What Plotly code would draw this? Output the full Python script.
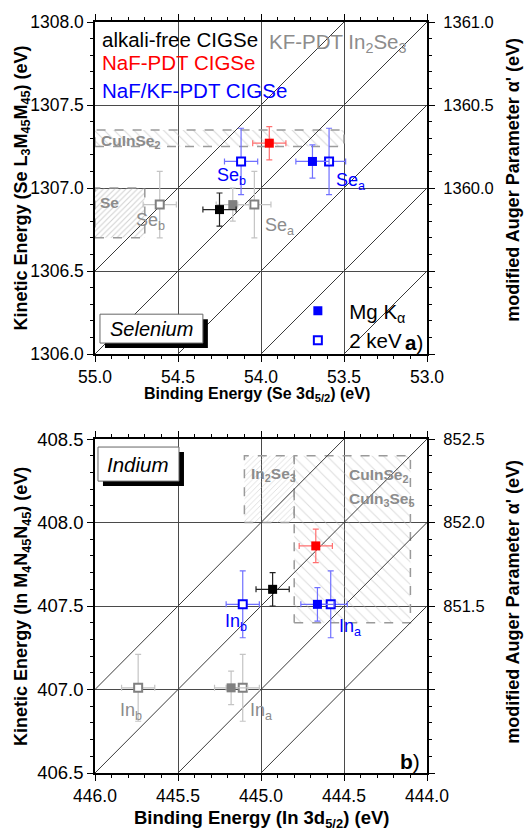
import plotly.graph_objects as go

# ---------------- data ----------------
# Selenium panel (a)
se_x_range = [55.0, 53.0]
se_y_range = [1306.0, 1308.0]
se_alpha_offset = 53.0
se_alpha_ticks = [1360.0, 1360.5, 1361.0]
se_alpha_lines = [1359.5, 1360.0, 1360.5, 1361.0, 1361.5]

se_alkali_be = [54.25]
se_alkali_ke = [1306.87]
se_naf_be = [53.95]
se_naf_ke = [1307.27]
se_nafkf_mg_be = [53.69]
se_nafkf_mg_ke = [1307.16]
se_nafkf_2kev_be = [53.59, 54.12]
se_nafkf_2kev_ke = [1307.16, 1307.16]
se_kf_mg_be = [54.17]
se_kf_mg_ke = [1306.90]
se_kf_2kev_be = [54.04, 54.61]
se_kf_2kev_ke = [1306.90, 1306.90]

se_cuinse2_be = [55.0, 53.5]
se_cuinse2_ke = [1307.25, 1307.35]
se_elem_be = [55.0, 54.7]
se_elem_ke = [1306.7, 1307.0]

# Indium panel (b)
in_x_range = [446.0, 444.0]
in_y_range = [406.5, 408.5]
in_alpha_offset = 444.0
in_alpha_ticks = [851.5, 852.0, 852.5]
in_alpha_lines = [851.5, 852.0, 852.5, 853.0]

in_alkali_be = [444.93]
in_alkali_ke = [407.60]
in_naf_be = [444.67]
in_naf_ke = [407.86]
in_nafkf_mg_be = [444.66]
in_nafkf_mg_ke = [407.51]
in_nafkf_2kev_be = [444.58, 445.11]
in_nafkf_2kev_ke = [407.51, 407.51]
in_kf_mg_be = [445.18]
in_kf_mg_ke = [407.01]
in_kf_2kev_be = [445.11, 445.74]
in_kf_2kev_ke = [407.01, 407.01]

in_in2se3_be = [445.1, 444.8]
in_in2se3_ke = [408.0, 408.4]
in_cuinse2_be = [444.8, 444.1]
in_cuinse2_ke = [407.4, 408.4]

err_mg = 0.1
err_2kev_x = 0.1
err_2kev_y = 0.2

# ---------------- styles ----------------
FONT = "Liberation Sans, Arial, sans-serif"
BLACK = "#000000"
GRAY = "#808080"
LGRAY = "#8c8c8c"
RED = "#ff0000"
BLUE = "#0000ff"
ERRC = {BLACK: "#222222", GRAY: "#c4c4c4", RED: "#ff7070", BLUE: "#7070ff"}

fig = go.Figure()


def add_box(be, ke, xa, ya, shape, size, solidity, fg):
    fig.add_trace(go.Scatter(
        x=[be[0], be[1], be[1], be[0], be[0]],
        y=[ke[0], ke[0], ke[1], ke[1], ke[0]],
        xaxis=xa, yaxis=ya, mode="lines", fill="toself",
        fillcolor="rgba(0,0,0,0)",
        fillpattern=dict(shape=shape, size=size, solidity=solidity,
                         fgcolor=fg, bgcolor="rgba(0,0,0,0)"),
        line=dict(color="#9a9a9a", width=1.5, dash="dash"),
        hoverinfo="skip", showlegend=False))


def add_diagonals(alphas, xr, xa, ya):
    for a in alphas:
        fig.add_trace(go.Scatter(
            x=[xr[0], xr[1]], y=[a - xr[0], a - xr[1]],
            xaxis=xa, yaxis=ya, mode="lines",
            line=dict(color="#3a3a3a", width=1),
            hoverinfo="skip", showlegend=False))


def add_points(be, ke, xa, ya, color, filled, ex, ey):
    n = len(be)
    fig.add_trace(go.Scatter(
        x=be, y=ke, xaxis=xa, yaxis=ya, mode="markers",
        error_x=dict(type="data", array=[ex] * n, color=ERRC[color], thickness=1.2, width=3),
        error_y=dict(type="data", array=[ey] * n, color=ERRC[color], thickness=1.2, width=3),
        marker=dict(symbol="square", size=9 if filled else 8,
                    color=color if filled else "white",
                    line=dict(color=color, width=0 if filled else 2)),
        hoverinfo="skip", showlegend=False))


# panel a
add_box(se_cuinse2_be, se_cuinse2_ke, "x", "y", "\\", 7, 0.15, "#b0b0b0")
add_box(se_elem_be, se_elem_ke, "x", "y", "/", 4, 0.25, "#a0a0a0")
add_diagonals(se_alpha_lines, se_x_range, "x", "y")
add_points(se_kf_2kev_be, se_kf_2kev_ke, "x", "y", GRAY, False, err_2kev_x, err_2kev_y)
add_points(se_kf_mg_be, se_kf_mg_ke, "x", "y", GRAY, True, err_mg, err_mg)
add_points(se_alkali_be, se_alkali_ke, "x", "y", BLACK, True, err_mg, err_mg)
add_points(se_naf_be, se_naf_ke, "x", "y", RED, True, err_mg, err_mg)
add_points(se_nafkf_2kev_be, se_nafkf_2kev_ke, "x", "y", BLUE, False, err_2kev_x, err_2kev_y)
add_points(se_nafkf_mg_be, se_nafkf_mg_ke, "x", "y", BLUE, True, err_mg, err_mg)

# panel b
add_box(in_cuinse2_be, in_cuinse2_ke, "x2", "y2", "\\", 8, 0.12, "#b8b8b8")
add_box(in_in2se3_be, in_in2se3_ke, "x2", "y2", "/", 4, 0.2, "#b0b0b0")
add_diagonals(in_alpha_lines, in_x_range, "x2", "y2")
add_points(in_kf_2kev_be, in_kf_2kev_ke, "x2", "y2", GRAY, False, err_2kev_x, err_2kev_y)
add_points(in_kf_mg_be, in_kf_mg_ke, "x2", "y2", GRAY, True, err_mg, err_mg)
add_points(in_alkali_be, in_alkali_ke, "x2", "y2", BLACK, True, err_mg, err_mg)
add_points(in_naf_be, in_naf_ke, "x2", "y2", RED, True, err_mg, err_mg)
add_points(in_nafkf_2kev_be, in_nafkf_2kev_ke, "x2", "y2", BLUE, False, err_2kev_x, err_2kev_y)
add_points(in_nafkf_mg_be, in_nafkf_mg_ke, "x2", "y2", BLUE, True, err_mg, err_mg)

# dummy traces for right axes
fig.add_trace(go.Scatter(x=[None], y=[None], xaxis="x", yaxis="y3", showlegend=False))
fig.add_trace(go.Scatter(x=[None], y=[None], xaxis="x2", yaxis="y4", showlegend=False))

# legend entries
fig.add_trace(go.Scatter(x=[None], y=[None], xaxis="x", yaxis="y", mode="markers",
                         name="\u00a0\u00a0Mg K<sub>\u03b1</sub>",
                         marker=dict(symbol="square", size=9, color=BLUE)))
fig.add_trace(go.Scatter(x=[None], y=[None], xaxis="x", yaxis="y", mode="markers",
                         name="\u00a0\u00a02 keV",
                         marker=dict(symbol="square", size=8, color="white",
                                     line=dict(color=BLUE, width=2))))

# ---------------- axes ----------------
TOP_DOM = [0.5579, 1.0]
BOT_DOM = [0.0, 0.4447]


def xaxis_cfg(rng, anchor, fs):
    return dict(range=rng, anchor=anchor, domain=[0, 1], dtick=0.5, tick0=rng[1],
                tickformat=".1f", showgrid=True, gridcolor="#4a4a4a", gridwidth=1,
                zeroline=False, showline=True, linecolor="black", linewidth=1.5,
                mirror="ticks", ticks="outside", ticklen=6, tickcolor="black", tickwidth=1.2,
                minor=dict(ticks="outside", dtick=0.1, ticklen=3, tickcolor="black", showgrid=False),
                tickfont=dict(size=fs, color="black", family=FONT))


def yaxis_cfg(rng, dom, anchor, fs):
    return dict(range=rng, anchor=anchor, domain=dom, dtick=0.5, tick0=rng[0],
                tickformat=".1f", showgrid=True, gridcolor="#4a4a4a", gridwidth=1,
                zeroline=False, showline=True, linecolor="black", linewidth=1.5,
                mirror="ticks", ticks="outside", ticklen=6, tickcolor="black", tickwidth=1.2,
                minor=dict(ticks="outside", dtick=0.1, ticklen=3, tickcolor="black", showgrid=False),
                tickfont=dict(size=fs, color="black", family=FONT))


def ralpha_cfg(rng, ticks, over, anchor):
    return dict(range=rng, overlaying=over, anchor=anchor, side="right",
                tickmode="array", tickvals=ticks, ticktext=["%.1f" % t for t in ticks],
                showgrid=False, zeroline=False, showline=False,
                ticks="outside", ticklen=6, tickcolor="black", tickwidth=1.2,
                ticklabelstandoff=6,
                minor=dict(ticks="outside", dtick=0.1, tick0=rng[0], ticklen=3, tickcolor="black"),
                tickfont=dict(size=16.5, color="black", family=FONT))


se_alpha_range = [se_y_range[0] + se_alpha_offset, se_y_range[1] + se_alpha_offset]
in_alpha_range = [in_y_range[0] + in_alpha_offset, in_y_range[1] + in_alpha_offset]

fig.update_layout(
    width=526, height=829,
    margin=dict(l=95, r=99, t=22, b=56, autoexpand=False),
    paper_bgcolor="white", plot_bgcolor="white",
    font=dict(family=FONT, color="black"),
    xaxis=xaxis_cfg(se_x_range, "y", 17.5),
    yaxis=yaxis_cfg(se_y_range, TOP_DOM, "x", 17.5),
    xaxis2=xaxis_cfg(in_x_range, "y2", 17.5),
    yaxis2=yaxis_cfg(in_y_range, BOT_DOM, "x2", 18.5),
    yaxis3=ralpha_cfg(se_alpha_range, se_alpha_ticks, "y", "x"),
    yaxis4=ralpha_cfg(in_alpha_range, in_alpha_ticks, "y2", "x2"),
    showlegend=True,
    legend=dict(x=0.611, y=0.642, xanchor="left", yanchor="top",
                bgcolor="rgba(0,0,0,0)", font=dict(size=20.5, family=FONT, color="black"),
                tracegroupgap=0, itemsizing="trace"),
)

# ---------------- decorations ----------------
shapes = []
shapes.append(dict(type="rect", xref="x domain", yref="y domain", x0=0.030, x1=0.340, y0=0.018, y1=0.105,
                   fillcolor="black", line=dict(width=0), layer="above"))
shapes.append(dict(type="rect", xref="x domain", yref="y domain", x0=0.015, x1=0.325, y0=0.033, y1=0.120,
                   fillcolor="white", line=dict(color="#666", width=1), layer="above"))
shapes.append(dict(type="rect", xref="x2 domain", yref="y2 domain", x0=0.024, x1=0.268, y0=0.859, y1=0.961,
                   fillcolor="black", line=dict(width=0), layer="above"))
shapes.append(dict(type="rect", xref="x2 domain", yref="y2 domain", x0=0.009, x1=0.253, y0=0.874, y1=0.976,
                   fillcolor="white", line=dict(color="#666", width=1), layer="above"))
fig.update_layout(shapes=shapes)

ann = []


def txt(text, x, y, xref, yref, size, color="black", xanchor="left", yanchor="middle", angle=0):
    ann.append(dict(text=text, x=x, y=y, xref=xref, yref=yref, showarrow=False,
                    xanchor=xanchor, yanchor=yanchor, textangle=angle,
                    font=dict(size=size, color=color, family=FONT)))


# top panel legend-ish texts
txt("alkali-free CIGSe", 0.015, 0.946, "x domain", "y domain", 20.5, BLACK)
txt("KF-PDT In<sub>2</sub>Se<sub>3</sub>", 0.518, 0.938, "x domain", "y domain", 20.5, LGRAY)
txt("NaF-PDT CIGSe", 0.015, 0.877, "x domain", "y domain", 20.5, RED)
txt("NaF/KF-PDT CIGSe", 0.015, 0.795, "x domain", "y domain", 20.5, BLUE)
txt("<i>Selenium</i>", 0.170, 0.076, "x domain", "y domain", 20, BLACK, "center")
txt("<b>a</b>)", 0.994, 0.036, "x domain", "y domain", 20.5, BLACK, "right")
# top panel point labels
txt("Se<sub>b</sub>", 54.277, 1307.07, "x", "y", 18, BLUE)
txt("Se<sub>a</sub>", 53.56, 1307.04, "x", "y", 18, BLUE)
txt("Se<sub>b</sub>", 54.765, 1306.80, "x", "y", 18, LGRAY)
txt("Se<sub>a</sub>", 53.99, 1306.77, "x", "y", 18, LGRAY)
txt("<b>CuInSe<sub>2</sub></b>", 54.975, 1307.28, "x", "y", 15.5, LGRAY)
txt("<b>Se</b>", 54.98, 1306.91, "x", "y", 15.5, LGRAY)

# bottom panel texts
txt("<i>Indium</i>", 0.131, 0.925, "x2 domain", "y2 domain", 20.5, BLACK, "center")
txt("<b>b</b>)", 0.985, 0.033, "x2 domain", "y2 domain", 21, BLACK, "right")
txt("In<sub>b</sub>", 445.23, 407.40, "x2", "y2", 18, BLUE)
txt("In<sub>a</sub>", 444.54, 407.37, "x2", "y2", 18, BLUE)
txt("In<sub>b</sub>", 445.86, 406.87, "x2", "y2", 18, LGRAY)
txt("In<sub>a</sub>", 445.08, 406.87, "x2", "y2", 18, LGRAY)
txt("<b>In<sub>2</sub>Se<sub>3</sub></b>", 445.07, 408.29, "x2", "y2", 15.5, LGRAY)
txt("<b>CuInSe<sub>2</sub></b>", 444.48, 408.28, "x2", "y2", 15.5, LGRAY)
txt("<b>CuIn<sub>3</sub>Se<sub>5</sub></b>", 444.48, 408.14, "x2", "y2", 15.5, LGRAY)

# axis titles
txt("<b>Binding Energy (Se 3d<sub>5/2</sub>) (eV)</b>", 0.489, 0.504, "paper", "paper", 16, BLACK, "center")
txt("<b>Binding Energy (In 3d<sub>5/2</sub>) (eV)</b>", 0.5, -0.061, "paper", "paper", 18.5, BLACK, "center")
txt("<b>Kinetic Energy (Se L<sub>3</sub>M<sub>45</sub>M<sub>45</sub>) (eV)</b>", -0.218, 0.779, "paper", "paper", 18, BLACK, "center", "middle", -90)
txt("<b>Kinetic Energy (In M<sub>4</sub>N<sub>45</sub>N<sub>45</sub>) (eV)</b>", -0.218, 0.222, "paper", "paper", 18, BLACK, "center", "middle", -90)
txt("<b>modified Auger Parameter \u03b1' (eV)</b>", 1.259, 0.790, "paper", "paper", 18, BLACK, "center", "middle", -90)
txt("<b>modified Auger Parameter \u03b1' (eV)</b>", 1.259, 0.228, "paper", "paper", 18, BLACK, "center", "middle", -90)

fig.update_layout(annotations=ann)

fig.write_html("out.html",
               config={"displayModeBar": False},
               post_script="document.body.style.margin='0px';document.body.style.padding='0px';"
                           "document.body.style.overflow='hidden';")
